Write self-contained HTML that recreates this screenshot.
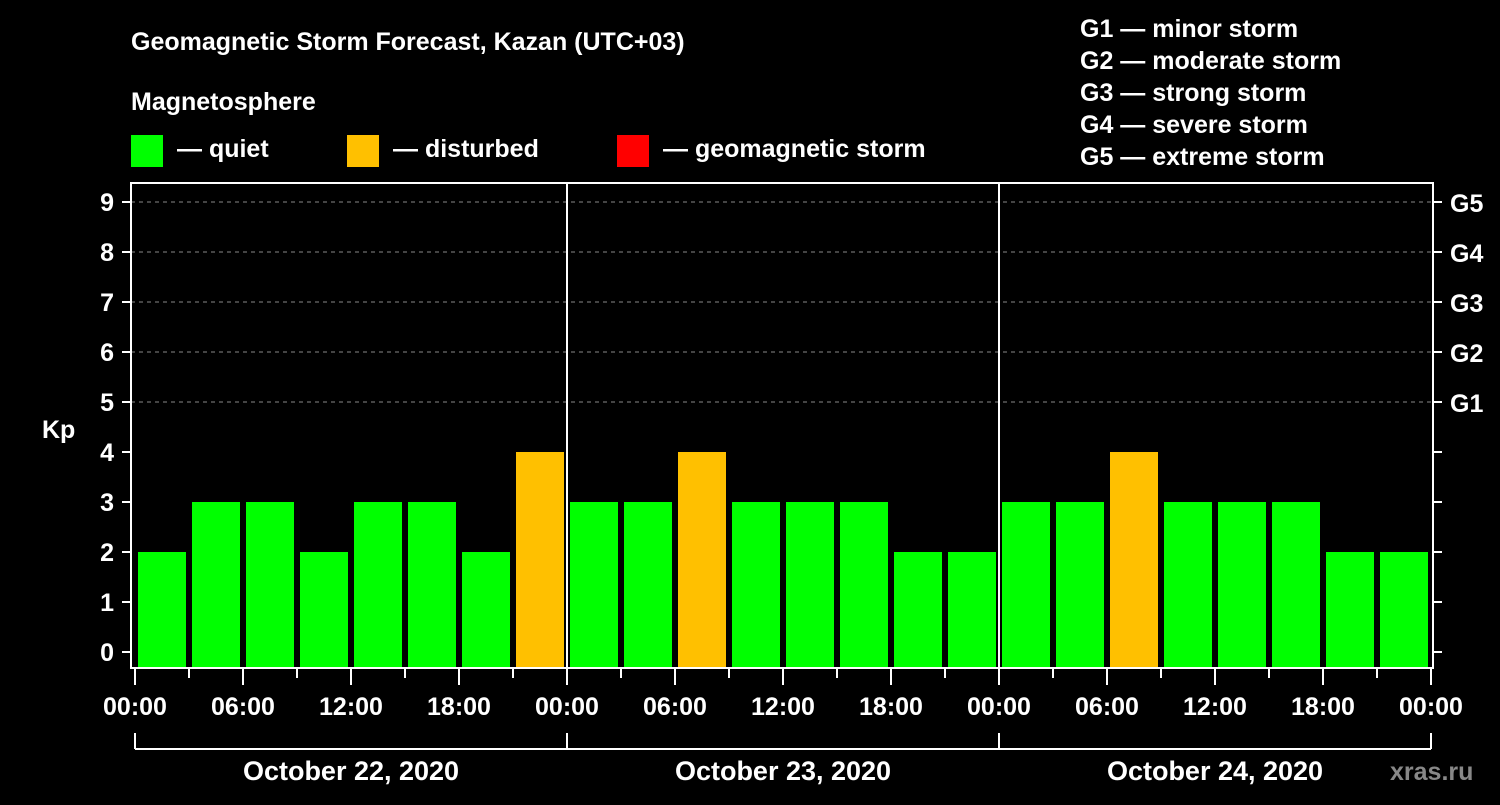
<!DOCTYPE html>
<html><head><meta charset="utf-8"><style>
body{margin:0;background:#000;width:1500px;height:800px;overflow:hidden}
svg text{font-family:"Liberation Sans",sans-serif;font-weight:bold;fill:#fff}
</style></head><body>
<svg id="c" width="1500" height="800">
<text x="131" y="50" font-size="25">Geomagnetic Storm Forecast, Kazan (UTC+03)</text>
<text x="131" y="110" font-size="25">Magnetosphere</text>
<rect x="131" y="135" width="32" height="32" fill="#00ff00"/>
<text x="177" y="157" font-size="25">— quiet</text>
<rect x="347" y="135" width="32" height="32" fill="#ffc000"/>
<text x="393" y="157" font-size="25">— disturbed</text>
<rect x="617" y="135" width="32" height="32" fill="#ff0000"/>
<text x="663" y="157" font-size="25">— geomagnetic storm</text>
<g font-size="25">
<text x="1080" y="37">G1 — minor storm</text>
<text x="1080" y="69">G2 — moderate storm</text>
<text x="1080" y="101">G3 — strong storm</text>
<text x="1080" y="133">G4 — severe storm</text>
<text x="1080" y="165">G5 — extreme storm</text>
</g>
<text x="42" y="438" font-size="25">Kp</text>
<text x="1390" y="780" font-size="25" fill="#888" style="fill:#888">xras.ru</text>
<g id="plot"></g>
</svg>
<script>
const kp=[2,3,3,2,3,3,2,4, 3,3,4,3,3,3,2,2, 3,3,4,3,3,3,2,2];
const days=["October 22, 2020","October 23, 2020","October 24, 2020"];
const hourLabels=["00:00","06:00","12:00","18:00"];
const gLabels=["G1","G2","G3","G4","G5"];
const NS="http://www.w3.org/2000/svg";
const g=document.getElementById('plot');
const X0=135,SLOT=54,L=131,R=1433,T=183,B=668;
const y=v=>652-50*v;
const x=i=>X0+i*SLOT;
function mk(t,a,txt){const e=document.createElementNS(NS,t);for(const k in a)e.setAttribute(k,a[k]);if(txt!=null)e.textContent=txt;g.appendChild(e);return e;}
for(let v=5;v<=9;v++){
 const e=mk('line',{x1:L,x2:R,y1:y(v),y2:y(v),stroke:'#888','stroke-dasharray':'4 4','stroke-width':1});
 
 
}
kp.forEach((v,i)=>{
 const c=v>=5?'#ff0000':v>=4?'#ffc000':'#00ff00';
 const e=mk('rect',{x:x(i)+3,y:y(v),width:48,height:B-y(v),fill:c});
 
 
});
const fr=mk('rect',{x:L,y:T,width:R-L,height:B-T,fill:'none',stroke:'#fff','stroke-width':2});


for(let d=1;d<days.length;d++){
 const e=mk('line',{x1:x(d*8),x2:x(d*8),y1:T,y2:B,stroke:'#fff','stroke-width':2});
 
 
}
for(let v=0;v<=9;v++){
 mk('line',{x1:122,x2:L,y1:y(v),y2:y(v),stroke:'#fff','stroke-width':2});
 mk('line',{x1:R,x2:1442,y1:y(v),y2:y(v),stroke:'#fff','stroke-width':2});
 const t=mk('text',{x:114,y:y(v)+9,'font-size':25,'text-anchor':'end'},String(v));
 
 
}
gLabels.forEach((s,i)=>{
 const t=mk('text',{x:1450,y:y(5+i)+10,'font-size':25},s);
 
 
});
for(let i=0;i<=kp.length;i++){
 const major=i%2===0;
 mk('line',{x1:x(i),x2:x(i),y1:B,y2:major?685:678,stroke:'#fff','stroke-width':2});
 if(major){
  const t=mk('text',{x:x(i),y:715,'font-size':25,'text-anchor':'middle'},hourLabels[(i/2)%4]);
  
  
 }
}
mk('line',{x1:x(0),x2:x(kp.length),y1:749,y2:749,stroke:'#fff','stroke-width':2});
days.forEach((d,i)=>{
 mk('line',{x1:x(i*8),x2:x(i*8),y1:733,y2:749,stroke:'#fff','stroke-width':2});
 const t=mk('text',{x:x(i*8+4),y:780,'font-size':27,'text-anchor':'middle'},d);
 
 
});
mk('line',{x1:x(kp.length),x2:x(kp.length),y1:733,y2:749,stroke:'#fff','stroke-width':2});
</script>
</body></html>
